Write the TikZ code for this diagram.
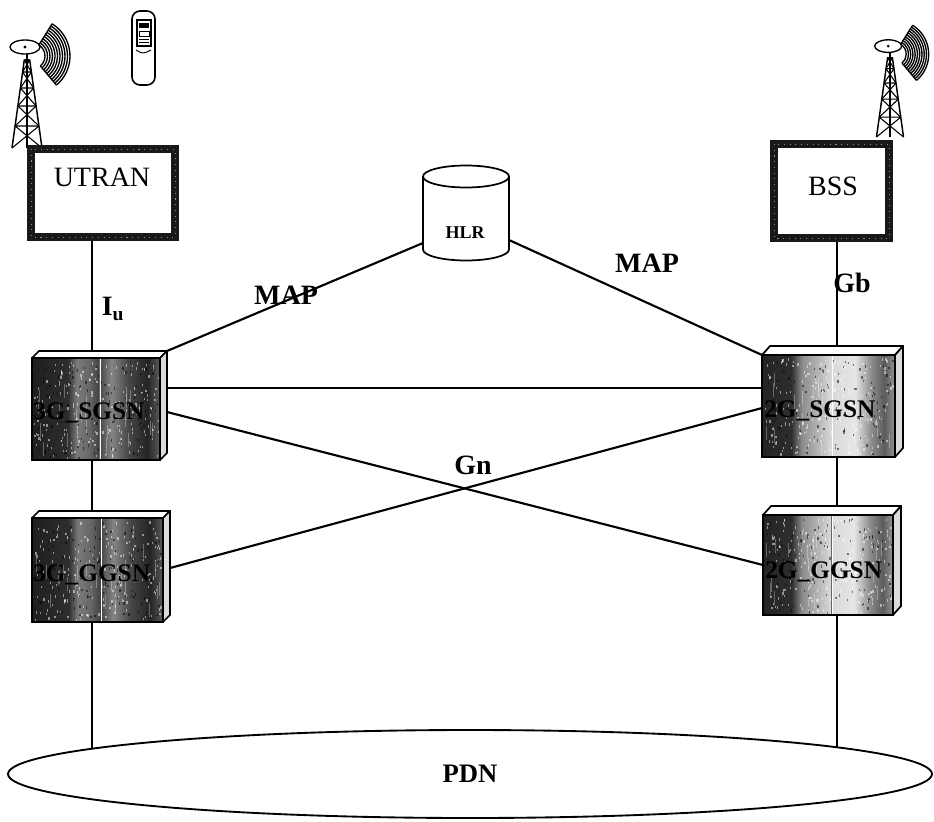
\documentclass[tikz,border=0pt]{standalone}
\usepackage{fontspec}
\setmainfont{Liberation Serif}
\usetikzlibrary{shapes.geometric}

% left-to-right tone bands of the server slabs (25bp..75bp spans the face)
\pgfdeclarehorizontalshading{slabdark}{100bp}{%
 color(0bp)=(black!88); color(25bp)=(black!88); color(39bp)=(black!82);
 color(42.5bp)=(black!52); color(47.5bp)=(black!60); color(51bp)=(black!74);
 color(56bp)=(black!48); color(62.5bp)=(black!72); color(70bp)=(black!86);
 color(75bp)=(black!64); color(100bp)=(black!64)}
\pgfdeclarehorizontalshading{slablight}{100bp}{%
 color(0bp)=(black!86); color(25bp)=(black!86); color(36bp)=(black!82);
 color(40bp)=(black!45); color(47.5bp)=(black!25); color(51bp)=(black!15);
 color(60bp)=(black!10); color(66bp)=(black!45); color(71bp)=(black!64);
 color(75bp)=(black!42); color(100bp)=(black!42)}

% speckles on a slab face: node, half width, half height
\newcommand\slabgrain[3]{%
  \foreach \k in {1,...,200}{%
    \pgfmathsetmacro\gx{rand*(#2-2)}%
    \pgfmathsetmacro\gy{rand*(#3-3)}%
    \fill[white,opacity=.5] ([shift={(\gx,\gy)}]#1.center) rectangle ++(1.3,2.4);
  }%
  \foreach \k in {1,...,110}{%
    \pgfmathsetmacro\gx{rand*(#2-2)}%
    \pgfmathsetmacro\gy{rand*(#3-3)}%
    \fill[black,opacity=.5] ([shift={(\gx,\gy)}]#1.center) rectangle ++(1.3,2.4);
  }%
  \foreach \k in {1,...,22}{%
    \pgfmathsetmacro\gx{rand*(#2-2)}%
    \pgfmathsetmacro\gy{rand*(#3-16)}%
    \draw[white,opacity=.3,line width=.5pt] ([shift={(\gx,\gy)}]#1.center) -- ++(0,14);
  }%
}
% top and side faces of a slab: node, depth dx, depth dy
\newcommand\slabfaces[3]{%
  \draw[slabedge,fill=white] (#1.north west) -- ++(#2,#3) -- ([shift={(#2,#3)}]#1.north east) -- (#1.north east) -- cycle;
  \draw[slabedge,fill=black!14] (#1.north east) -- ++(#2,#3) -- ([shift={(#2,#3)}]#1.south east) -- (#1.south east) -- cycle;
  \draw[black!60,line width=1.4pt] ([shift={(4,1)}]#1.north) -- ([shift={(4,-1)}]#1.south);
  \draw[white,line width=.5pt] ([shift={(4,1)}]#1.north) -- ([shift={(4,-1)}]#1.south);
}

\tikzset{
  mast/.pic={
    \draw[line width=1.1pt] (-15,0) -- (-2.7,-88) -- (2.7,-88) -- (15,0);
    \draw[line width=.8pt] (0,0) -- (0,-93);
    \foreach \ya/\wa/\yb/\wb in {0/15/-22/11.9,-22/11.9/-42/9.1,-42/9.1/-60/6.6,-60/6.6/-76/4.4,-76/4.4/-88/2.7}
      \draw[line width=.8pt] (-\wa,\ya) -- (\wb,\yb) (\wa,\ya) -- (-\wb,\yb) (-\wb,\yb) -- (\wb,\yb);
    \draw[line width=1pt] (0,-88) -- (0,-96);
    \draw[line width=1pt,fill=white] (-2,-101) ellipse[x radius=15,y radius=7];
    \fill (-2,-101) circle[radius=1.6];
    \foreach \r in {13,15.5,...,38}
      \draw[line width=1pt] (5,-92) ++(-58:\r) arc[start angle=-58,end angle=50,radius=\r];
    \draw[line width=1pt] (5,-92) ++(-58:13) -- ++(-58:25) (5,-92) ++(50:13) -- ++(50:25);
  }
}

\begin{document}
\begin{tikzpicture}[x=0.75pt,y=-0.75pt,
  wire/.style={line width=1.6pt},
  slabedge/.style={line width=1.3pt,line join=round},
  slab/.style={draw,line width=1.3pt,inner sep=0,outer sep=0},
  accessframe/.style={draw=black!90,line width=6pt,inner sep=0,outer sep=3pt},
  accesstxt/.style={inner sep=0,font=\fontsize{21}{24}\selectfont},
  slablbl/.style={inner sep=0,font=\fontsize{19}{22}\selectfont\bfseries},
  tag/.style={inner sep=0,font=\fontsize{21}{24}\selectfont\bfseries},
  drum/.style={line width=1.3pt}]
\useasboundingbox (0,0) rectangle (934,821);

% radio masts and handset
\pic at (27,148) {mast};
\pic[scale=0.9] at (890,137) {mast};
\draw[line width=1.2pt,rounded corners=6pt] (132,11) rectangle (155,85);
\draw[line width=.8pt] (137,20) rectangle (151,46);
\fill (139,23) rectangle (149,28);
\draw[line width=.6pt] (139,31) rectangle (149,36) (139,39) -- (149,39) (139,42) -- (149,42);
\draw[line width=.7pt] (136,50) .. controls (143,54) .. (151,50);

% access networks
\node[accessframe,minimum width=144*0.75pt,minimum height=88*0.75pt] (utran) at (103,193) {};
\draw[white,opacity=.5,line width=.6pt,dash pattern=on .8pt off 3.5pt]
  ([shift={(4,4)}]utran.north west) rectangle ([shift={(-4,-4)}]utran.south east);
\node[accesstxt] (utranlbl) at (102,177) {UTRAN};
\node[accessframe,minimum width=115*0.75pt,minimum height=94*0.75pt] (bss) at (831.5,191) {};
\draw[white,opacity=.5,line width=.6pt,dash pattern=on .8pt off 3.5pt]
  ([shift={(4,4)}]bss.north west) rectangle ([shift={(-4,-4)}]bss.south east);
\node[accesstxt] (bsslbl) at (833,186) {BSS};

% home location register
\node[inner sep=0,outer sep=0,minimum width=86*0.75pt,minimum height=95*0.75pt] (hlr) at (466,213) {};
\draw[drum] (hlr.north west) ++(0,11) -- ++(0,73) arc[start angle=180,end angle=0,x radius=43,y radius=11] -- ++(0,-73);
\draw[drum] ([shift={(43,11)}]hlr.north west) ellipse[x radius=43,y radius=11];
\node[inner sep=0,font=\fontsize{13.5}{15}\selectfont\bfseries] (hlrlbl) at (465,233) {HLR};

% support nodes
\pgfmathsetseed{4217}
\node[slab,shading=slabdark,minimum width=128*0.75pt,minimum height=102*0.75pt] (sgsn3) at (96,409) {};
\slabgrain{sgsn3}{64}{51}
\slabfaces{sgsn3}{7}{-7}
\node[slablbl,anchor=west] (sgsn3lbl) at ([shift={(1,4)}]sgsn3.west) {3G\_SGSN};

\node[slab,shading=slabdark,minimum width=131*0.75pt,minimum height=104*0.75pt] (ggsn3) at (97.5,570) {};
\slabgrain{ggsn3}{65}{52}
\slabfaces{ggsn3}{7}{-7}
\node[slablbl,anchor=west] (ggsn3lbl) at ([shift={(1,5)}]ggsn3.west) {3G\_GGSN};

\node[slab,shading=slablight,minimum width=133*0.75pt,minimum height=102*0.75pt] (sgsn2) at (828.5,406) {};
\slabgrain{sgsn2}{66}{51}
\slabfaces{sgsn2}{8}{-9}
\node[slablbl,anchor=west] (sgsn2lbl) at ([shift={(2,5)}]sgsn2.west) {2G\_SGSN};

\node[slab,shading=slablight,minimum width=130*0.75pt,minimum height=100*0.75pt] (ggsn2) at (828,565) {};
\slabgrain{ggsn2}{65}{50}
\slabfaces{ggsn2}{8}{-9}
\node[slablbl,anchor=west] (ggsn2lbl) at ([shift={(2,7)}]ggsn2.west) {2G\_GGSN};

% packet data network
\node[draw,ellipse,line width=1.4pt,inner sep=0,outer sep=0,
      minimum width=924*0.75pt,minimum height=88*0.75pt,
      font=\fontsize{20}{22}\selectfont\bfseries] (pdn) at (470,774) {PDN};

% vertical spines
\coordinate (lfoot) at ([shift={(-5.5,0)}]ggsn3.south);
\coordinate (rfoot) at ([shift={(9,0)}]ggsn2.south);
\draw[wire] ([shift={(-11,0)}]utran.south) -- ([shift={(-4,-7)}]sgsn3.north);
\draw[wire] ([shift={(-4,0)}]sgsn3.south) -- ([shift={(-5.5,-7)}]ggsn3.north);
\draw[wire] (lfoot) -- (lfoot |- pdn.176.2);
\draw[wire] ([shift={(5.5,0)}]bss.south) -- ([shift={(8.5,-9)}]sgsn2.north);
\draw[wire] ([shift={(8.5,0)}]sgsn2.south) -- ([shift={(9,-9)}]ggsn2.north);
\draw[wire] (rfoot) -- (rfoot |- pdn.4.2);

% MAP and Gn links
\draw[wire] ([shift={(0,30)}]hlr.west) -- ([shift={(7,-7)}]sgsn3.north east);
\draw[wire] ([shift={(0,27)}]hlr.east) -- (sgsn2.north west);
\draw[wire] ([shift={(7,-21)}]sgsn3.east) -- ([shift={(0,-18)}]sgsn2.west);
\draw[wire] ([shift={(7,3)}]sgsn3.east) -- (ggsn2.west);
\draw[wire] ([shift={(7,-2)}]ggsn3.east) -- ([shift={(0,2)}]sgsn2.west);

% interface labels
\node[tag] (mapl) at (286,295) {MAP};
\node[tag] (mapr) at (647,263) {MAP};
\node[tag] (iu) at (113,309) {I\textsubscript{u}};
\node[tag] (gb) at (852,283) {Gb};
\node[tag] (gn) at (473,465) {Gn};
\end{tikzpicture}
\end{document}
